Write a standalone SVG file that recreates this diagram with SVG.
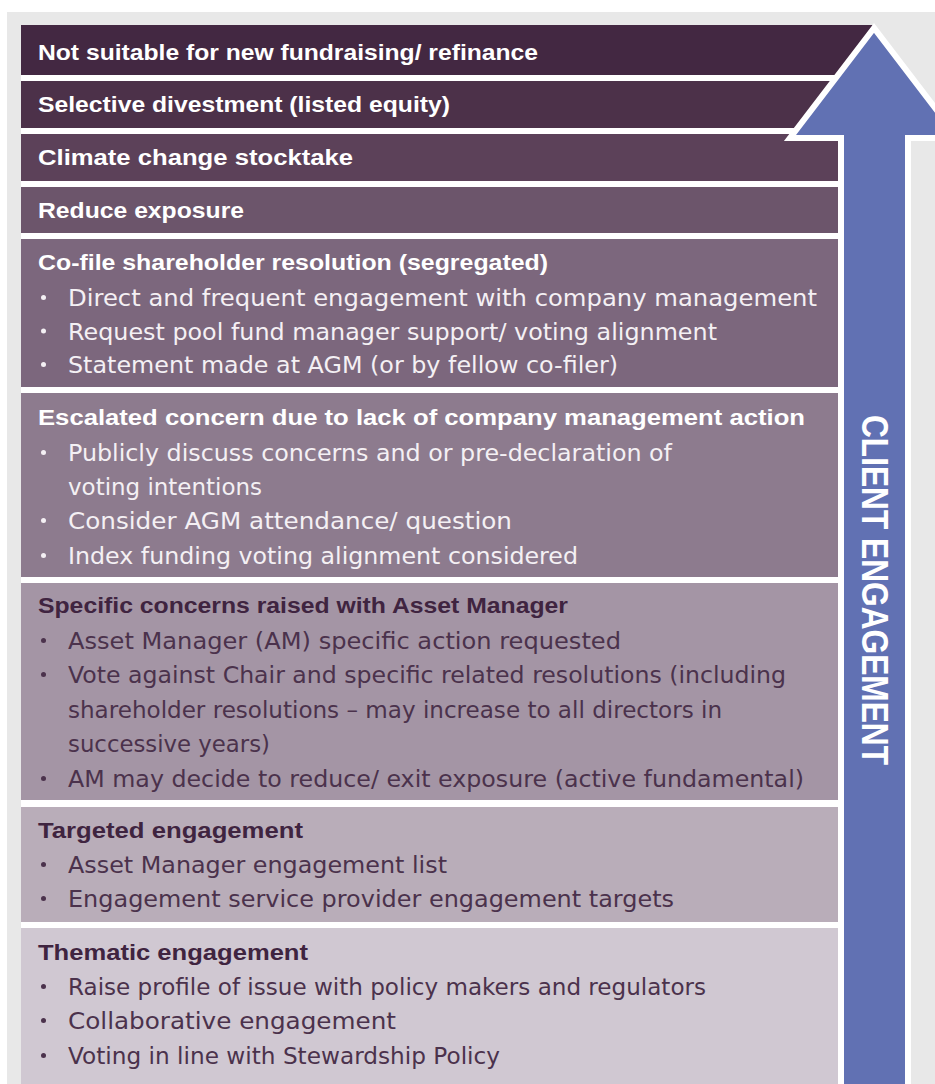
<svg xmlns="http://www.w3.org/2000/svg" width="935" height="1084" viewBox="0 0 935 1084">
<style>
.h{font-family:"Liberation Sans",Arial,sans-serif;font-weight:bold;font-size:22px;fill:#ffffff}
.hd{font-family:"Liberation Sans",Arial,sans-serif;font-weight:bold;font-size:22px;fill:#3f2440}
.b{font-family:"DejaVu Sans","Noto Sans",sans-serif;font-size:23px;fill:#f4f0f4}
.bd{font-family:"DejaVu Sans","Noto Sans",sans-serif;font-size:23px;fill:#4b324c}
.dw{fill:#f4f0f4}
.dd{fill:#4b324c}
</style>
<rect x="0" y="0" width="935" height="1084" fill="#ffffff"/>
<rect x="7" y="12" width="928" height="1072" fill="#e8e8e8"/>
<rect x="21" y="25" width="830" height="1059" fill="#ffffff"/>

<g id="box1">
<polygon points="21,25 873,25 838,75 21,75" fill="#432842"/>
<text class="h" x="38" y="60" textLength="500" lengthAdjust="spacingAndGlyphs">Not suitable for new fundraising/ refinance</text>
</g>
<g id="box2">
<polygon points="21,81 833.5,81 797.6,128 21,128" fill="#4c3149"/>
<text class="h" x="38" y="112" textLength="412" lengthAdjust="spacingAndGlyphs">Selective divestment (listed equity)</text>
</g>
<g id="box3">
<rect x="21" y="134" width="817" height="47" fill="#5c4159"/>
<text class="h" x="38" y="165" textLength="315" lengthAdjust="spacingAndGlyphs">Climate change stocktake</text>
</g>
<g id="box4">
<rect x="21" y="187" width="817" height="46" fill="#6c556b"/>
<text class="h" x="38" y="218" textLength="206" lengthAdjust="spacingAndGlyphs">Reduce exposure</text>
</g>
<g id="box5">
<rect x="21" y="239" width="817" height="148" fill="#7c677d"/>
<text class="h" x="38" y="270" textLength="510" lengthAdjust="spacingAndGlyphs">Co-file shareholder resolution (segregated)</text>
<circle class="dw" cx="43.5" cy="297.5" r="2.5"/>
<text class="b" x="68" y="306" textLength="749" lengthAdjust="spacingAndGlyphs">Direct and frequent engagement with company management</text>
<circle class="dw" cx="43.5" cy="331" r="2.5"/>
<text class="b" x="68" y="339.5" textLength="649" lengthAdjust="spacingAndGlyphs">Request pool fund manager support/ voting alignment</text>
<circle class="dw" cx="43.5" cy="364.5" r="2.5"/>
<text class="b" x="68" y="373" textLength="550" lengthAdjust="spacingAndGlyphs">Statement made at AGM (or by fellow co-filer)</text>
</g>
<g id="box6">
<rect x="21" y="393" width="817" height="184" fill="#8d7b8e"/>
<text class="h" x="38" y="425" textLength="767" lengthAdjust="spacingAndGlyphs">Escalated concern due to lack of company management action</text>
<circle class="dw" cx="43.5" cy="452.5" r="2.5"/>
<text class="b" x="68" y="461" textLength="604" lengthAdjust="spacingAndGlyphs">Publicly discuss concerns and or pre-declaration of</text>
<text class="b" x="68" y="495" textLength="194" lengthAdjust="spacingAndGlyphs">voting intentions</text>
<circle class="dw" cx="43.5" cy="520.5" r="2.5"/>
<text class="b" x="68" y="529" textLength="444" lengthAdjust="spacingAndGlyphs">Consider AGM attendance/ question</text>
<circle class="dw" cx="43.5" cy="555.5" r="2.5"/>
<text class="b" x="68" y="564" textLength="510" lengthAdjust="spacingAndGlyphs">Index funding voting alignment considered</text>
</g>
<g id="box7">
<rect x="21" y="583" width="817" height="217" fill="#a495a5"/>
<text class="hd" x="38" y="613" textLength="530" lengthAdjust="spacingAndGlyphs">Specific concerns raised with Asset Manager</text>
<circle class="dd" cx="43.5" cy="640.5" r="2.5"/>
<text class="bd" x="68" y="649" textLength="553" lengthAdjust="spacingAndGlyphs">Asset Manager (AM) specific action requested</text>
<circle class="dd" cx="43.5" cy="674.5" r="2.5"/>
<text class="bd" x="68" y="683" textLength="718" lengthAdjust="spacingAndGlyphs">Vote against Chair and specific related resolutions (including</text>
<text class="bd" x="68" y="718" textLength="654" lengthAdjust="spacingAndGlyphs">shareholder resolutions – may increase to all directors in</text>
<text class="bd" x="68" y="752" textLength="202" lengthAdjust="spacingAndGlyphs">successive years)</text>
<circle class="dd" cx="43.5" cy="778.5" r="2.5"/>
<text class="bd" x="68" y="787" textLength="736" lengthAdjust="spacingAndGlyphs">AM may decide to reduce/ exit exposure (active fundamental)</text>
</g>
<g id="box8">
<rect x="21" y="807" width="817" height="115" fill="#b9adb9"/>
<text class="hd" x="38" y="838" textLength="265" lengthAdjust="spacingAndGlyphs">Targeted engagement</text>
<circle class="dd" cx="43.5" cy="864.5" r="2.5"/>
<text class="bd" x="68" y="873" textLength="379" lengthAdjust="spacingAndGlyphs">Asset Manager engagement list</text>
<circle class="dd" cx="43.5" cy="898.5" r="2.5"/>
<text class="bd" x="68" y="907" textLength="606" lengthAdjust="spacingAndGlyphs">Engagement service provider engagement targets</text>
</g>
<g id="box9">
<rect x="21" y="928" width="817" height="156" fill="#d0c8d2"/>
<text class="hd" x="38" y="960" textLength="270" lengthAdjust="spacingAndGlyphs">Thematic engagement</text>
<circle class="dd" cx="43.5" cy="986.5" r="2.5"/>
<text class="bd" x="68" y="995" textLength="638" lengthAdjust="spacingAndGlyphs">Raise profile of issue with policy makers and regulators</text>
<circle class="dd" cx="43.5" cy="1020.5" r="2.5"/>
<text class="bd" x="68" y="1029" textLength="328" lengthAdjust="spacingAndGlyphs">Collaborative engagement</text>
<circle class="dd" cx="43.5" cy="1055.5" r="2.5"/>
<text class="bd" x="68" y="1064" textLength="432" lengthAdjust="spacingAndGlyphs">Voting in line with Stewardship Policy</text>
</g>

<g id="arrow">
<polygon points="874,28 790,138 841,138 841,1095 908,1095 908,138 958,138" fill="#6171b3" stroke="#ffffff" stroke-width="6" stroke-linejoin="miter"/>
<text transform="translate(862,590) rotate(90)" x="0" y="0" text-anchor="middle" font-family="Liberation Sans, Arial, sans-serif" font-weight="bold" font-size="37" fill="#ffffff" textLength="350" lengthAdjust="spacingAndGlyphs">CLIENT ENGAGEMENT</text>
</g>
</svg>
